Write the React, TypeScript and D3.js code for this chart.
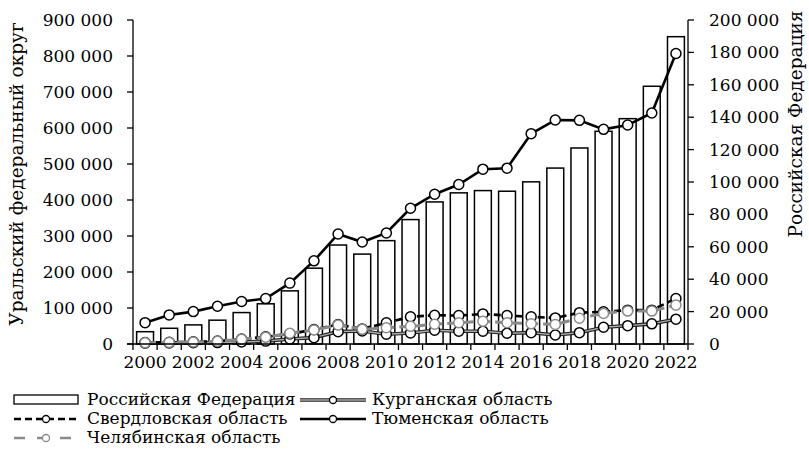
import React from "react";
import * as d3 from "d3";

const years = d3.range(2000, 2023).map(String);
const yearLabels = years.filter((_, i) => i % 2 === 0);
const rfValues = [7600, 9700, 11800, 14700, 19400, 24800, 32800, 46800, 61100, 55500, 63800, 76800, 87700, 93300, 94700, 94300, 100100, 108600, 121000, 131300, 139100, 159100, 189700];
const tyumen = [59300, 80800, 90000, 105000, 117900, 126200, 169100, 231000, 305600, 283300, 308400, 377000, 416000, 443000, 485600, 488400, 584200, 622100, 621300, 596200, 608200, 641600, 807100];
const sverdlovsk = [4000, 5000, 6000, 8000, 14000, 20000, 28000, 40000, 54000, 42000, 59000, 75500, 80000, 79000, 83500, 79000, 75500, 72500, 87000, 89500, 94000, 94000, 126500];
const chelyabinsk = [3500, 4500, 5500, 7500, 13500, 19000, 29800, 39000, 53000, 41000, 45400, 49000, 55000, 59000, 63000, 59000, 56500, 54500, 71500, 85000, 91500, 91500, 108000];
const kurgan = [2500, 3000, 3500, 4000, 5500, 8000, 14000, 17600, 34300, 36000, 27000, 30500, 38200, 35400, 35400, 29800, 31500, 25100, 31500, 46500, 51000, 56000, 69000];
const leftTicks = d3.range(0, 900001, 100000);
const rightTicks = d3.range(0, 200001, 20000);

const FONT = "DejaVu Serif";
const FS = 17;
const TFS = 18.5;

const W = 809, H = 453;
const x0 = 133, x1 = 688, yTop = 20, yBot = 344;

const fmt = (v: number) => d3.format(",")(v).replace(/,/g, " ");

export default function App() {
  const x = d3.scaleBand<string>().domain(years).range([x0, x1]).paddingInner(0.3).paddingOuter(0.15);
  const band = d3.scaleBand<string>().domain(years).range([x0, x1]).padding(0);
  const yL = d3.scaleLinear().domain([0, 900000]).range([yBot, yTop]);
  const yR = d3.scaleLinear().domain([0, 200000]).range([yBot, yTop]);
  const cx = (y: string) => (band(y) as number) + band.bandwidth() / 2;
  const line = (vals: number[]) =>
    d3.line<number>().x((_, i) => cx(years[i])).y((v) => yL(v))(vals) as string;

  const circles = (vals: number[], stroke: string, key: string) =>
    vals.map((v, i) => (
      <circle key={key + i} cx={cx(years[i])} cy={yL(v)} r={5} fill="#fff" stroke={stroke} strokeWidth={1.5} />
    ));

  const boundaries = years.map((y) => band(y) as number).concat([x1]);

  const legendRows = [405, 424, 443];
  const c1 = 14, c1e = 78, c2 = 300, c2e = 366;

  return (
    <svg width={W} height={H} style={{ position: "absolute", left: 0, top: 0 }} fontFamily={FONT} fontSize={FS}>
      <rect x={0} y={0} width={W} height={H} fill="#fff" />
      {/* bars */}
      {years.map((y, i) => (
        <rect key={"b" + y} x={x(y)} y={yR(rfValues[i])} width={x.bandwidth()} height={yBot - yR(rfValues[i])} fill="#fff" stroke="#000" strokeWidth={1.5} />
      ))}
      {/* Kurgan */}
      <path d={line(kurgan)} fill="none" stroke="#222" strokeWidth={3.6} />
      <path d={line(kurgan)} fill="none" stroke="#aaa" strokeWidth={1.4} />
      {circles(kurgan, "#000", "k")}
      {/* Sverdlovsk */}
      <path d={line(sverdlovsk)} fill="none" stroke="#000" strokeWidth={2.6} strokeDasharray="7,4" />
      {circles(sverdlovsk, "#000", "s")}
      {/* Chelyabinsk */}
      <path d={line(chelyabinsk)} fill="none" stroke="#8a8a8a" strokeWidth={3} strokeDasharray="11,5" />
      {circles(chelyabinsk, "#8a8a8a", "c")}
      {/* Tyumen */}
      <path d={line(tyumen)} fill="none" stroke="#000" strokeWidth={2.6} />
      {circles(tyumen, "#000", "t")}

      {/* left axis */}
      <line x1={x0} x2={x0} y1={yTop} y2={yBot} stroke="#000" strokeWidth={1.3} />
      {leftTicks.map((t) => (
        <g key={"lt" + t}>
          <line x1={x0 - 6} x2={x0} y1={yL(t)} y2={yL(t)} stroke="#000" strokeWidth={1.3} />
          <text x={x0 - 20} y={yL(t)} dy="0.35em" textAnchor="end">{fmt(t)}</text>
        </g>
      ))}
      {/* right axis */}
      <line x1={x1} x2={x1} y1={yTop} y2={yBot} stroke="#000" strokeWidth={1.3} />
      {rightTicks.map((t) => (
        <g key={"rt" + t}>
          <line x1={x1} x2={x1 + 6} y1={yR(t)} y2={yR(t)} stroke="#000" strokeWidth={1.3} />
          <text x={x1 + 21} y={yR(t)} dy="0.35em" textAnchor="start">{fmt(t)}</text>
        </g>
      ))}
      {/* bottom axis */}
      <line x1={x0 - 6} x2={x1} y1={yBot} y2={yBot} stroke="#000" strokeWidth={1.3} />
      {boundaries.map((b, i) => (
        <line key={"bt" + i} x1={b} x2={b} y1={yBot} y2={yBot + 6} stroke="#000" strokeWidth={1.3} />
      ))}
      {yearLabels.map((y) => (
        <text key={"yl" + y} x={cx(y)} y={368} textAnchor="middle">{y}</text>
      ))}
      {/* axis titles */}
      <text transform={`translate(23,174) rotate(-90)`} textAnchor="middle" fontSize={TFS}>Уральский федеральный округ</text>
      <text transform={`translate(802,124) rotate(-90)`} textAnchor="middle" fontSize={TFS}>Российская Федерация</text>

      {/* legend */}
      <rect x={c1} y={legendRows[0] - 10} width={c1e - c1} height={9} fill="#fff" stroke="#000" strokeWidth={1.3} />
      <text x={87} y={legendRows[0]}>Российская Федерация</text>

      <line x1={c1} x2={c1e} y1={legendRows[1] - 5} y2={legendRows[1] - 5} stroke="#000" strokeWidth={2.6} strokeDasharray="7,4" />
      <circle cx={(c1 + c1e) / 2} cy={legendRows[1] - 5} r={3.5} fill="#fff" stroke="#000" strokeWidth={1.3} />
      <text x={87} y={legendRows[1]}>Свердловская область</text>

      <line x1={c1} x2={c1e} y1={legendRows[2] - 5} y2={legendRows[2] - 5} stroke="#8a8a8a" strokeWidth={2.6} strokeDasharray="11,12" />
      <circle cx={(c1 + c1e) / 2} cy={legendRows[2] - 5} r={3.5} fill="#fff" stroke="#8a8a8a" strokeWidth={1.3} />
      <text x={87} y={legendRows[2]}>Челябинская область</text>

      <line x1={c2} x2={c2e} y1={legendRows[0] - 5} y2={legendRows[0] - 5} stroke="#222" strokeWidth={3.6} />
      <line x1={c2} x2={c2e} y1={legendRows[0] - 5} y2={legendRows[0] - 5} stroke="#aaa" strokeWidth={1.4} />
      <circle cx={(c2 + c2e) / 2} cy={legendRows[0] - 5} r={3.5} fill="#fff" stroke="#000" strokeWidth={1.3} />
      <text x={372} y={legendRows[0]}>Курганская область</text>

      <line x1={c2} x2={c2e} y1={legendRows[1] - 5} y2={legendRows[1] - 5} stroke="#000" strokeWidth={2.6} />
      <circle cx={(c2 + c2e) / 2} cy={legendRows[1] - 5} r={3.5} fill="#fff" stroke="#000" strokeWidth={1.3} />
      <text x={372} y={legendRows[1]}>Тюменская область</text>
    </svg>
  );
}
